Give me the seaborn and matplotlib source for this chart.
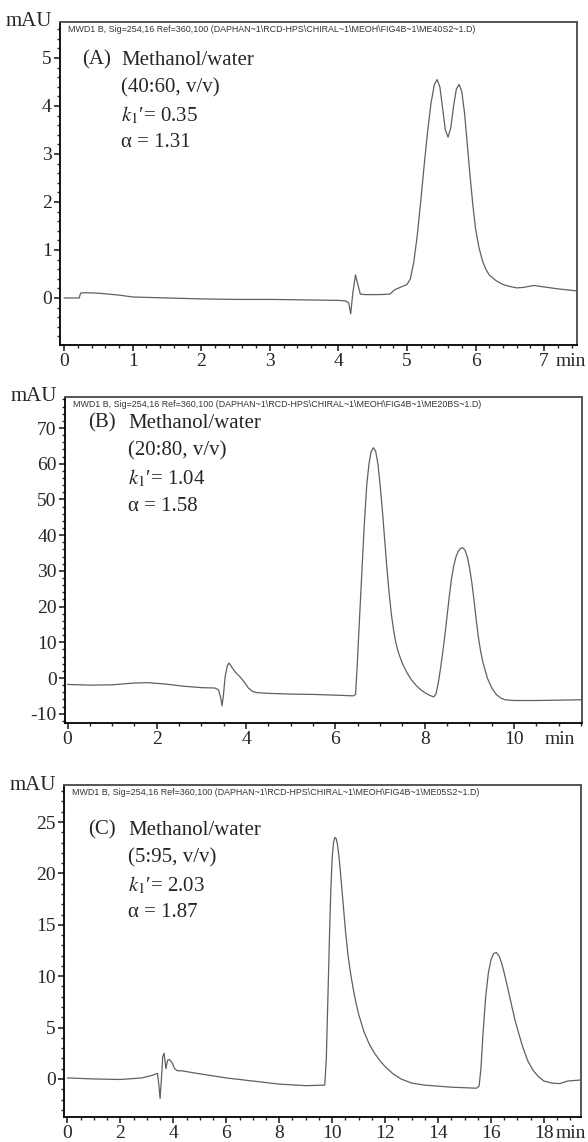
import matplotlib
matplotlib.use('Agg')
import matplotlib.pyplot as plt
from matplotlib.ticker import MultipleLocator
import seaborn as sns

# Panel A - methanol/water 40:60
a_time = [0.00, 0.22, 0.24, 0.30, 0.50, 0.80, 1.00, 1.50, 2.00, 2.50,
          3.00, 3.50, 4.00, 4.10, 4.15, 4.18, 4.21, 4.25, 4.28, 4.32,
          4.40, 4.60, 4.75, 4.82, 4.90, 5.00, 5.05, 5.10, 5.15, 5.20,
          5.25, 5.30, 5.35, 5.40, 5.44, 5.48, 5.52, 5.56, 5.60, 5.64,
          5.68, 5.72, 5.76, 5.80, 5.84, 5.88, 5.92, 5.96, 6.00, 6.05,
          6.10, 6.15, 6.20, 6.30, 6.40, 6.50, 6.60, 6.70, 6.85, 7.00,
          7.20, 7.46]
a_signal = [0.00, 0.00, 0.10, 0.11, 0.10, 0.06, 0.02, 0.00, -0.02, -0.03,
            -0.03, -0.04, -0.05, -0.06, -0.10, -0.33, 0.10, 0.48, 0.30, 0.08,
            0.07, 0.07, 0.08, 0.17, 0.22, 0.28, 0.40, 0.75, 1.30, 2.00,
            2.75, 3.45, 4.05, 4.45, 4.55, 4.40, 3.95, 3.50, 3.35, 3.55,
            4.00, 4.35, 4.45, 4.30, 3.85, 3.20, 2.55, 1.95, 1.45, 1.05,
            0.78, 0.60, 0.48, 0.36, 0.28, 0.24, 0.21, 0.22, 0.26, 0.23,
            0.19, 0.15]

# Panel B - methanol/water 20:80
b_time = [0.00, 0.50, 1.00, 1.50, 1.80, 2.20, 2.60, 3.00, 3.30, 3.38,
          3.43, 3.46, 3.49, 3.53, 3.58, 3.62, 3.68, 3.76, 3.85, 3.95,
          4.05, 4.15, 4.25, 4.50, 5.00, 5.50, 6.00, 6.40, 6.45, 6.48,
          6.52, 6.56, 6.60, 6.65, 6.70, 6.75, 6.80, 6.85, 6.90, 6.95,
          7.00, 7.05, 7.10, 7.15, 7.20, 7.25, 7.30, 7.35, 7.40, 7.50,
          7.60, 7.70, 7.80, 7.90, 8.00, 8.10, 8.20, 8.25, 8.30, 8.35,
          8.40, 8.45, 8.50, 8.55, 8.60, 8.65, 8.70, 8.75, 8.80, 8.85,
          8.90, 8.95, 9.00, 9.05, 9.10, 9.15, 9.20, 9.25, 9.30, 9.40,
          9.50, 9.60, 9.70, 9.80, 10.00, 10.50, 11.00, 11.50]
b_signal = [-1.8, -2.0, -1.9, -1.4, -1.3, -1.7, -2.3, -2.7, -2.8, -3.3,
            -5.5, -7.8, -5.0, 0.5, 3.5, 4.2, 3.0, 1.6, 0.5, -1.0,
            -2.8, -3.8, -4.1, -4.3, -4.5, -4.6, -4.8, -5.0, -4.6, 2.0,
            12.0, 22.0, 32.0, 44.0, 54.0, 60.0, 63.5, 64.5, 63.5, 60.0,
            54.0, 47.0, 39.0, 31.0, 24.0, 18.0, 13.5, 10.0, 7.5, 4.0,
            1.5, -0.5, -2.0, -3.2, -4.1, -4.8, -5.3, -4.5, -1.5, 2.5,
            7.0, 12.0, 17.5, 23.0, 28.0, 31.5, 34.0, 35.5, 36.3, 36.5,
            35.8, 34.0, 31.0, 27.0, 22.0, 16.5, 11.5, 7.5, 4.5, 0.0,
            -2.8, -4.6, -5.6, -6.1, -6.3, -6.3, -6.2, -6.1]

# Panel C - methanol/water 5:95
c_time = [0.00, 1.00, 2.00, 2.80, 3.20, 3.40, 3.45, 3.50, 3.55, 3.60,
          3.65, 3.72, 3.78, 3.85, 3.95, 4.05, 4.15, 4.30, 5.00, 6.00,
          7.00, 8.00, 9.00, 9.72, 9.78, 9.84, 9.90, 9.95, 10.00, 10.05,
          10.10, 10.15, 10.20, 10.25, 10.30, 10.40, 10.50, 10.60, 10.70, 10.80,
          10.90, 11.00, 11.20, 11.40, 11.60, 11.80, 12.00, 12.30, 12.60, 13.00,
          13.50, 14.00, 14.50, 15.00, 15.45, 15.55, 15.62, 15.70, 15.80, 15.90,
          16.00, 16.10, 16.20, 16.30, 16.40, 16.50, 16.60, 16.75, 16.90, 17.05,
          17.20, 17.40, 17.60, 17.80, 18.00, 18.30, 18.60, 18.90, 19.40]
c_signal = [0.10, 0.00, -0.05, 0.10, 0.35, 0.55, -0.50, -1.90, 0.00, 2.20,
            2.50, 1.00, 1.80, 1.90, 1.60, 1.00, 0.80, 0.80, 0.50, 0.10,
            -0.20, -0.50, -0.65, -0.60, 2.00, 8.00, 14.0, 18.5, 21.5, 23.0,
            23.5, 23.4, 22.8, 21.8, 20.5, 17.5, 14.5, 12.0, 10.2, 8.7,
            7.4, 6.3, 4.6, 3.4, 2.5, 1.8, 1.2, 0.5, 0.0, -0.4,
            -0.6, -0.7, -0.8, -0.85, -0.9, -0.7, 1.0, 4.5, 8.0, 10.3,
            11.6, 12.2, 12.3, 12.0, 11.3, 10.3, 9.2, 7.5, 5.8, 4.4,
            3.1, 1.7, 0.8, 0.2, -0.2, -0.4, -0.45, -0.2, -0.1]

a_lines = ['(40:60, v/v)', "$k_1$\u2032= 0.35", '\u03b1 = 1.31']
b_lines = ['(20:80, v/v)', "$k_1$\u2032= 1.04", '\u03b1 = 1.58']
c_lines = ['(5:95, v/v)', "$k_1$\u2032= 2.03", '\u03b1 = 1.87']

hdr = r'MWD1 B, Sig=254,16 Ref=360,100 (DAPHAN~1\RCD-HPS\CHIRAL~1\MEOH\FIG4B~1' + '\\'
a_hdr = hdr + 'ME40S2~1.D)'
b_hdr = hdr + 'ME20BS~1.D)'
c_hdr = hdr + 'ME05S2~1.D)'

sns.set_style('ticks')
plt.rcParams['font.family'] = ['Liberation Serif', 'DejaVu Serif']
plt.rcParams['mathtext.fontset'] = 'stix'
plt.rcParams['axes.unicode_minus'] = False

fig = plt.figure(figsize=(5.88, 11.42), dpi=100)
W, H = 588, 1142


def add_panel(box, t, s, xlim, ylim, xmaj, xmin_, ymaj, ymin_, tag, lines, header, min_x):
    l, r, top, bot = box
    ax = fig.add_axes([l / W, 1 - bot / H, (r - l) / W, (bot - top) / H])
    sns.lineplot(x=t, y=s, ax=ax, color='#606060', lw=0.9, estimator=None, sort=False)
    ax.set_xlim(*xlim)
    ax.set_ylim(*ylim)
    ax.xaxis.set_major_locator(MultipleLocator(xmaj))
    ax.xaxis.set_minor_locator(MultipleLocator(xmin_))
    ax.yaxis.set_major_locator(MultipleLocator(ymaj))
    ax.yaxis.set_minor_locator(MultipleLocator(ymin_))
    ax.tick_params(which='major', length=4, width=1.2, labelsize=14, pad=2)
    ax.tick_params(which='minor', length=2, width=1.0)
    ax.set_xlabel('')
    ax.set_ylabel('')
    for side in ['left', 'bottom']:
        ax.spines[side].set_color('black')
        ax.spines[side].set_linewidth(1.3)
    for side in ['top', 'right']:
        ax.spines[side].set_color('#555555')
        ax.spines[side].set_linewidth(1.4)
    ax.text(-0.015, 1.0, 'mAU', transform=ax.transAxes, ha='right', va='center', fontsize=15)
    ax.annotate('min', xy=(min_x, 0), xycoords='axes fraction', xytext=(0, -6),
                textcoords='offset points', ha='left', va='top', fontsize=14)
    ax.text(0.015, 0.99, header, transform=ax.transAxes, ha='left', va='top',
            fontsize=6.4, family=['Liberation Sans', 'DejaVu Sans'], color='#333333')
    ax.text(tag[1], tag[2], tag[0], transform=ax.transAxes, ha='left', va='center', fontsize=15)
    ax.text(tag[3], tag[2], 'Methanol/water', transform=ax.transAxes, ha='left', va='center', fontsize=15)
    for i, txt in enumerate(lines):
        ax.text(tag[3], tag[2] - (i + 1) * tag[4], txt, transform=ax.transAxes,
                ha='left', va='center', fontsize=15)
    return ax


add_panel((60, 577, 22, 345), a_time, a_signal, (-0.06, 7.48), (-0.98, 5.75),
          1, 0.2, 1, 0.2, ('(A)', 0.043, 0.882, 0.118, 0.085), a_lines, a_hdr, 0.959)
add_panel((65, 582, 397, 723), b_time, b_signal, (-0.056, 11.52), (-12.6, 78.7),
          2, 0.5, 10, 2, ('(B)', 0.044, 0.920, 0.122, 0.085), b_lines, b_hdr, 0.928)
add_panel((64, 581, 785, 1117), c_time, c_signal, (-0.13, 19.4), (-3.7, 28.6),
          2, 0.5, 5, 1, ('(C)', 0.046, 0.864, 0.124, 0.083), c_lines, c_hdr, 0.951)

fig.savefig('out.png', dpi=100)
